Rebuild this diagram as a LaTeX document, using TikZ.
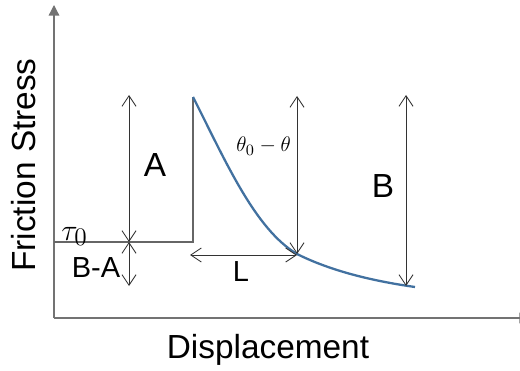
\documentclass[tikz,border=0pt]{standalone}
\usepackage{fontspec}
\setmainfont{Liberation Sans}
\usepackage{xcolor}
\usetikzlibrary{positioning,arrows.meta}
\definecolor{curveblue}{RGB}{66,113,160}
\tikzset{
    dimarrow/.style={{Straight Barb[length=6pt,width=8pt]}-{Straight Barb[length=6pt,width=8pt]}, black!80, line width=0.5pt},
    axisline/.style={black!55, line width=0.7pt},
    stepline/.style={black!60, line width=0.6pt},
    biglabel/.style={font=\fontsize{19}{19}\selectfont, inner sep=0pt},
    midlabel/.style={font=\fontsize{16.5}{16.5}\selectfont, inner sep=0pt},
}

\begin{document}
\begin{tikzpicture}[x=0.02cm,y=-0.02cm]
                \useasboundingbox (0,0) rectangle (520,371);
                % axes
                \coordinate (origin) at (54,318);
                \coordinate (ytop) at (54,5);
                \coordinate (xend) at (530,318);
                \draw[axisline,-{Triangle[length=6pt,width=6pt]}] (origin) -- (ytop);
                \draw[axisline,-{Triangle[length=6pt,width=6pt]}] (origin) -- (xend);
                \node[biglabel, rotate=90] (ylabel) at (24,165) {Friction Stress};
                \node[biglabel] (xlabel) at (268,350) {Displacement};
                % steady state and jump
                \coordinate (tauleft) at (54,242);
                \coordinate (taumark) at (129,242);
                \coordinate (jumpfoot) at (193,242);
                \coordinate (peak) at (193,97);
                \draw[stepline] (tauleft) -- (jumpfoot) -- (peak);
                % decay curve
                \coordinate (Lend) at (297,254);
                \coordinate (tail) at (406,286);
                \coordinate (curveend) at (415,287);
                \draw[curveblue, line width=1.3pt] (peak) .. controls (226,162) and (255,229) .. (Lend)
                    .. controls (335,273) and (380,282) .. (curveend);
                % dimension arrows
                \coordinate (Atop) at (129,95);
                \coordinate (BAfoot) at (129,286);
                \coordinate (thtop) at (297,96);
                \coordinate (Btop) at (406,95);
                \coordinate (Lstart) at (190,255);
                \coordinate (Lstop) at (297,255);
                \draw[dimarrow] (taumark) -- (Atop);
                \draw[dimarrow] (taumark) -- (BAfoot);
                \draw[dimarrow] (thtop) -- (Lend);
                \draw[dimarrow] (Btop) -- (tail);
                \draw[dimarrow] (Lstart) -- (Lstop);
                % labels
                \node[biglabel] (Alabel) at (155,165) {A};
                \node[biglabel] (Blabel) at (383,186.5) {B};
                \node[midlabel] (BAlabel) at (96,267.5) {B-A};
                \node[midlabel] (Llabel) at (241,272) {L};
                \node[inner sep=0pt, anchor=base west, font=\fontsize{19}{19}\selectfont] (taulabel) at (61,240) {$\tau_0$};
                \node[inner sep=0pt, anchor=base west, font=\fontsize{13}{13}\selectfont] (thlabel) at (236,152) {$\theta_0-\theta$};
            \end{tikzpicture}
\end{document}
